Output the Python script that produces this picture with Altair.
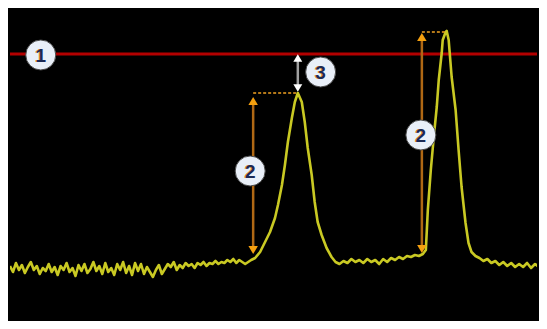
import altair as alt
import pandas as pd

# Trace: frequency bin vs. level (counts above the bottom of the display)
bins = [0, 3, 6, 9, 12, 15, 18, 21, 24, 27, 30, 33, 36, 39, 42, 45, 48, 51, 54, 57,
        60, 63, 66, 69, 72, 75, 78, 81, 84, 87, 90, 93, 96, 99, 102, 105, 108, 111, 114, 117,
        120, 123, 126, 129, 132, 135, 138, 141, 144, 147, 150, 153, 156, 159, 162, 165, 168, 171, 174, 177,
        180, 183, 186, 189, 192, 195, 198, 201, 204, 207, 210, 213, 216, 219, 222, 225, 228, 231, 234, 237,
        240, 243,
        247, 252, 257, 262, 267, 270, 274, 277, 280, 284, 287, 290, 294, 297, 300, 304, 307, 310, 314, 319, 324,
        328, 332, 336, 340, 344, 348, 352, 356, 360, 364, 368, 372, 376, 380, 384, 388, 392, 396, 400, 404,
        408, 412, 416, 419,
        421, 424, 427, 430, 432, 435, 436, 439, 440, 442, 445, 449, 452, 455, 459, 462, 465, 469, 473, 477,
        481, 485, 489, 493, 497, 501, 505, 509, 513, 517, 521, 525, 529, 533, 537, 539]
levels = [63, 57, 66, 59, 64, 56, 62, 67, 59, 63, 55, 61, 58, 65, 57, 62, 54, 63, 59, 66,
          57, 61, 53, 64, 58, 65, 56, 60, 67, 58, 63, 55, 66, 57, 61, 54, 65, 59, 67, 56,
          63, 54, 66, 58, 65, 55, 62, 57, 52, 59, 64, 55, 60, 65, 62, 67, 59, 64, 61, 66,
          63, 65, 61, 66, 64, 67, 63, 66, 65, 68, 65, 67, 66, 69, 67, 70, 66, 69, 67, 65,
          67, 69,
          71, 77, 87, 97, 111, 124, 144, 164, 187, 211, 227, 236, 227, 207, 181, 154, 127, 107, 94, 81, 72,
          67, 65, 68, 66, 70, 67, 69, 66, 70, 67, 69, 65, 70, 67, 71, 69, 72, 70, 73, 72,
          74, 73, 75, 79,
          119, 159, 192, 222, 249, 276, 289, 297, 298, 289, 252, 219, 179, 142, 106, 86, 77, 73, 71, 68,
          70, 66, 68, 64, 67, 63, 66, 62, 65, 62, 66, 61, 65, 62, 66, 63]

# Annotations
threshold_level = 275
arrow_bins = [245, 415]
arrow_low = [79, 80]
arrow_high = [228, 292]
peak_bins = [290, 440]
peak_levels = [236, 297]
gap_bin = 290
gap_low = 241
gap_high = 271
badge_labels = ["1", "3", "2", "2"]
badge_bins = [31, 313, 242, 414]
badge_levels = [274, 257, 158, 194]

W, H = 531, 313
xs = alt.Scale(domain=[0, 531], nice=False, zero=False)
ys = alt.Scale(domain=[8, 321], nice=False, zero=False)

trace_df = pd.DataFrame({"bin": bins, "level": levels})
thr_df = pd.DataFrame({"level": [threshold_level]})
arr_df = pd.DataFrame({"bin": arrow_bins, "lo": arrow_low, "hi": arrow_high,
                       "pbin": peak_bins, "plevel": peak_levels})
gap_df = pd.DataFrame({"bin": [gap_bin], "lo": [gap_low], "hi": [gap_high]})
badge_df = pd.DataFrame({"label": badge_labels, "bin": badge_bins, "level": badge_levels})

X = lambda f: alt.X(f, type="quantitative", scale=xs, axis=None)
Y = lambda f: alt.Y(f, type="quantitative", scale=ys, axis=None)

trace = alt.Chart(trace_df).mark_line(color="#c9c923", strokeWidth=2.6, strokeJoin="round", clip=True).encode(
    x=X("bin"), y=Y("level"))

thr = alt.Chart(thr_df).mark_rule(color="#b30000", strokeWidth=3).encode(y=Y("level"))

dash = alt.Chart(arr_df).mark_rule(color="#f0a020", strokeWidth=1.5, strokeDash=[3, 2]).encode(
    x=X("bin"), x2="pbin", y=Y("plevel"))
shaft = alt.Chart(arr_df).mark_rule(color="#b06814", strokeWidth=2.5).encode(
    x=X("bin"), y=Y("lo"), y2="hi")
head_up = alt.Chart(arr_df).mark_point(shape="triangle-up", filled=True, size=90, color="#f5a00f", opacity=1).encode(
    x=X("bin"), y=Y("hi"))
head_dn = alt.Chart(arr_df).mark_point(shape="triangle-down", filled=True, size=90, color="#f5a00f", opacity=1).encode(
    x=X("bin"), y=Y("lo"))

gshaft = alt.Chart(gap_df).mark_rule(color="#a0a0a0", strokeWidth=2.5).encode(
    x=X("bin"), y=Y("lo"), y2="hi")
g_up = alt.Chart(gap_df).mark_point(shape="triangle-up", filled=True, size=80, color="#ffffff", opacity=1).encode(
    x=X("bin"), y=Y("hi"))
g_dn = alt.Chart(gap_df).mark_point(shape="triangle-down", filled=True, size=80, color="#ffffff", opacity=1).encode(
    x=X("bin"), y=Y("lo"))

badge = alt.Chart(badge_df).mark_point(shape="circle", filled=True, size=900, color="#e9eff8",
                                       stroke="#4a4a4a", strokeWidth=1, opacity=1).encode(
    x=X("bin"), y=Y("level"))
badge_shadow = alt.Chart(badge_df).mark_text(font="Liberation Sans", fontWeight="bold", fontSize=19,
                                             color="#e8901a", dx=-1, dy=1, baseline="middle", align="center").encode(
    x=X("bin"), y=Y("level"), text="label")
badge_text = alt.Chart(badge_df).mark_text(font="Liberation Sans", fontWeight="bold", fontSize=19,
                                           color="#1b2a55", baseline="middle", align="center", dy=1).encode(
    x=X("bin"), y=Y("level"), text="label")

chart = alt.layer(thr, trace, dash, shaft, head_up, head_dn, gshaft, g_up, g_dn,
                  badge, badge_shadow, badge_text).properties(
    width=W, height=H, background="black", padding=0,
    autosize=alt.AutoSizeParams(type="fit", contains="padding"),
).configure_view(stroke=None, fill="black")

chart.save("out.html", embed_options={"renderer": "svg", "actions": False})
